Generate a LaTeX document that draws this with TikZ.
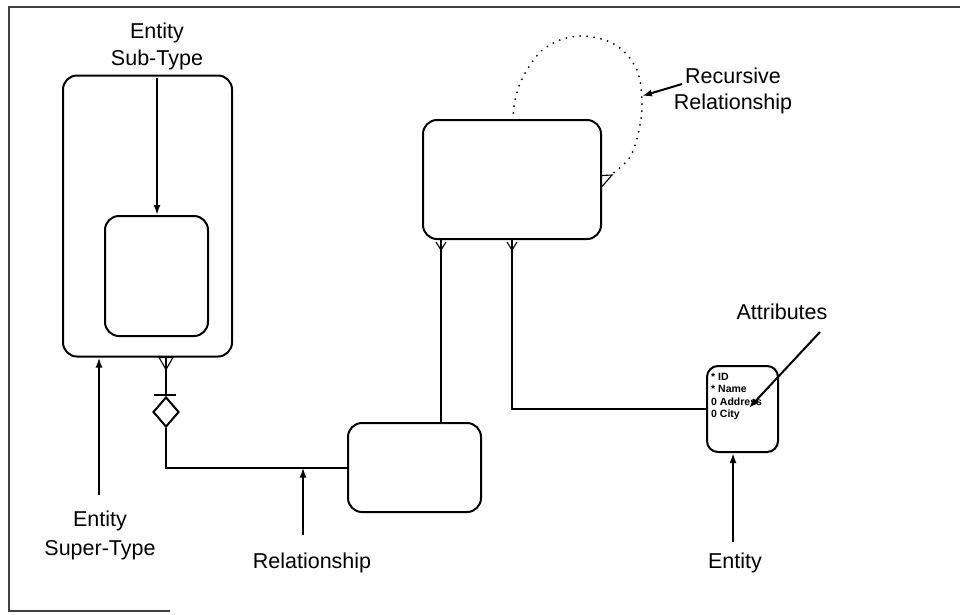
\documentclass[tikz,border=0pt]{standalone}
\usepackage{fontspec}
\setmainfont{Liberation Sans}
\usetikzlibrary{arrows.meta,shapes.geometric}
\begin{document}
\begin{tikzpicture}[x=1pt,y=-1pt,
  ebox/.style={draw, line width=2pt, rounded corners=14pt, inner sep=0pt},
  conn/.style={line width=2pt},
  arr/.style={line width=2pt, -{Latex[length=10pt,width=7pt]}},
  thinmark/.style={line width=1.1pt},
  lbl/.style={font=\fontsize{21.5}{29}\selectfont, inner sep=0pt, anchor=base},
  attrtxt/.style={font=\fontsize{10.5}{12.3}\selectfont\bfseries, align=left, inner sep=0pt, anchor=north west}]
\useasboundingbox (0,0) rectangle (960,614);
% frame
\draw[line width=1.5pt, black!75] (960,7) -- (9,7) -- (9,611) -- (170,611);
% entities
\node[ebox, minimum width=169pt, minimum height=281pt] (super) at (147.5,216) {};
\node[ebox, minimum width=103pt, minimum height=120pt] (sub) at (156.5,276) {};
\node[ebox, minimum width=178pt, minimum height=119pt] (rec) at (512,179.5) {};
\node[ebox, minimum width=133pt, minimum height=89pt] (rel) at (414.5,467.5) {};
\node[ebox, rounded corners=11pt, minimum width=71pt, minimum height=86pt] (attr) at (742.5,409) {};
\node[attrtxt] (attrlist) at (711,373) {* ID\\* Name\\0 Address\\0 City};
% labels
\node[lbl] (lsub1) at (157,38) {Entity};
\node[lbl] (lsub2) at (157,65) {Sub-Type};
\node[lbl] (lsup1) at (100,526) {Entity};
\node[lbl] (lsup2) at (100,555) {Super-Type};
\node[lbl] (lrel) at (312,568) {Relationship};
\node[lbl] (lent) at (735,568.5) {Entity};
\node[lbl] (lattr) at (782,319) {Attributes};
\node[lbl] (lrec1) at (733,83) {Recursive};
\node[lbl] (lrec2) at (733,109) {Relationship};
% pointer arrows
\coordinate (psub) at (157,78);
\draw[arr] (psub) -- (psub |- sub.north);
\coordinate (psuper) at (99,495);
\draw[arr] (psuper) -- (psuper |- super.south);
\coordinate (prel) at (303,535);
\draw[arr] (prel) -- (prel |- rel.west);
\coordinate (pent) at (733,542);
\draw[arr] (pent) -- (pent |- attr.south);
\coordinate (pattr) at (820,332);
\coordinate (pattrend) at (749,408);
\draw[arr] (pattr) -- (pattrend);
\coordinate (prec) at (682,84);
\coordinate (precend) at (642,96);
\draw[arr] (prec) -- (precend);
% subtype relationship
\node[diamond, draw, line width=2pt, minimum width=26pt, minimum height=30pt, inner sep=0pt] (dia) at (166,412) {};
\draw[thinmark] (super.south -| dia.north) ++(-7,0) -- ++(14,0) -- ++(-7,12) -- cycle;
\draw[conn] (super.south -| dia.north) -- (dia.north);
\draw[conn] ([xshift=-12pt]dia.north) ++(0,-1) -- ++(22,0);
\draw[conn] (dia.south) |- (rel.west);
% recursive entity connections
\coordinate (r1) at ([xshift=-71pt]rec.south);
\draw[conn] (r1) -- (r1 |- rel.north);
\draw[thinmark] (r1) ++(-5,2) -- ++(5,8) -- ++(5,-8);
\draw[conn] (rec.south) |- (attr.west);
\draw[thinmark] (rec.south) ++(-5,2) -- ++(5,8) -- ++(5,-8);
% recursive relationship
\coordinate (rend) at (612,175);
\draw[line width=2pt, line cap=round, dash pattern=on 0pt off 7pt]
  plot[smooth, tension=0.6] coordinates {(513,120) (515,100) (524,75) (545,48) (578,36) (614,44) (636,68) (642,100) (639,130) (630,157) (612,174)};
\draw[thinmark] ([yshift=-7pt]rec.east) -- (rend) -- ([yshift=4pt]rec.east);
\end{tikzpicture}
\end{document}
